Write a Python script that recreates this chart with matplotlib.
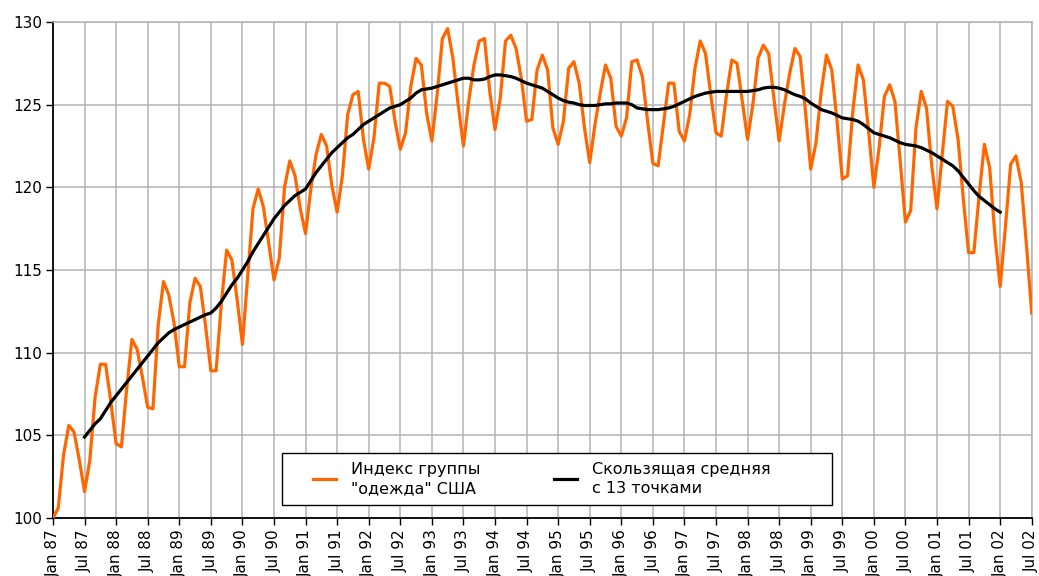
import matplotlib
matplotlib.use("Agg")
import matplotlib.pyplot as plt
from matplotlib.patches import Rectangle

# monthly index, Jan 1987 .. Jul 2002
apparel = [
    100.0, 100.6, 103.8, 105.6, 105.2, 103.5, 101.6, 103.5, 107.3, 109.3, 109.3, 107.0,   # 1987
    104.5, 104.3, 107.8, 110.8, 110.2, 108.5, 106.7, 106.6, 111.7, 114.3, 113.5, 111.8,   # 1988
    109.15, 109.15, 113.0, 114.5, 114.0, 111.6, 108.9, 108.9, 113.0, 116.2, 115.6, 113.2, # 1989
    110.5, 114.6, 118.7, 119.9, 118.8, 116.6, 114.4, 115.7, 120.0, 121.6, 120.7, 118.7,   # 1990
    117.2, 119.9, 122.0, 123.2, 122.5, 120.1, 118.5, 120.7, 124.4, 125.6, 125.8, 122.9,   # 1991
    121.1, 123.0, 126.3, 126.3, 126.1, 124.0, 122.3, 123.3, 126.1, 127.8, 127.4, 124.5,   # 1992
    122.8, 125.6, 129.0, 129.6, 127.8, 125.0, 122.5, 125.2, 127.4, 128.85, 129.0, 125.8,  # 1993
    123.5, 125.4, 128.85, 129.2, 128.4, 126.6, 124.0, 124.1, 127.1, 128.0, 127.1, 123.6,  # 1994
    122.6, 124.0, 127.2, 127.6, 126.3, 123.6, 121.5, 123.8, 125.7, 127.4, 126.6, 123.7,   # 1995
    123.1, 124.2, 127.6, 127.7, 126.7, 124.0, 121.45, 121.3, 123.8, 126.3, 126.3, 123.4,  # 1996
    122.8, 124.4, 127.2, 128.85, 128.1, 125.6, 123.3, 123.1, 125.6, 127.7, 127.5, 125.2,  # 1997
    122.9, 125.0, 127.8, 128.6, 128.1, 125.4, 122.8, 125.0, 126.9, 128.4, 127.9, 124.6,   # 1998
    121.1, 122.7, 125.8, 128.0, 127.1, 124.0, 120.5, 120.7, 124.6, 127.4, 126.5, 123.4,   # 1999
    120.0, 122.4, 125.5, 126.2, 125.2, 121.6, 117.9, 118.6, 123.6, 125.8, 124.8, 121.3,   # 2000
    118.7, 122.0, 125.2, 124.9, 122.9, 119.3, 116.05, 116.05, 119.5, 122.6, 121.2, 117.1, # 2001
    114.0, 117.6, 121.4, 121.9, 120.3, 116.5, 112.4,                                     # 2002
]

# 13-point moving average, Jul 1987 .. Jan 2002
moving_avg = [
    104.9, 105.3, 105.7, 106.0, 106.5, 107.0,                                             # 1987
    107.4, 107.8, 108.2, 108.6, 109.0, 109.4, 109.8, 110.2, 110.6, 110.9, 111.2, 111.4,   # 1988
    111.55, 111.7, 111.85, 112.0, 112.15, 112.3, 112.4, 112.7, 113.1, 113.6, 114.1, 114.5, # 1989
    115.0, 115.5, 116.1, 116.6, 117.1, 117.6, 118.1, 118.5, 118.9, 119.2, 119.5, 119.7,   # 1990
    119.9, 120.4, 120.9, 121.3, 121.7, 122.1, 122.4, 122.7, 123.0, 123.2, 123.5, 123.8,   # 1991
    124.0, 124.2, 124.4, 124.6, 124.8, 124.9, 125.0, 125.2, 125.4, 125.7, 125.9, 125.95,  # 1992
    126.0, 126.1, 126.2, 126.3, 126.4, 126.5, 126.6, 126.6, 126.5, 126.5, 126.55, 126.7,  # 1993
    126.8, 126.8, 126.75, 126.7, 126.6, 126.45, 126.3, 126.2, 126.1, 126.0, 125.8, 125.6, # 1994
    125.4, 125.25, 125.15, 125.1, 125.0, 124.95, 124.95, 124.95, 125.0, 125.05, 125.05, 125.1, # 1995
    125.1, 125.1, 125.0, 124.8, 124.75, 124.7, 124.7, 124.7, 124.75, 124.8, 124.9, 125.05, # 1996
    125.2, 125.35, 125.5, 125.6, 125.7, 125.75, 125.8, 125.8, 125.8, 125.8, 125.8, 125.8, # 1997
    125.8, 125.85, 125.9, 126.0, 126.05, 126.05, 126.0, 125.9, 125.75, 125.6, 125.5, 125.35, # 1998
    125.1, 124.9, 124.7, 124.6, 124.5, 124.35, 124.2, 124.15, 124.1, 124.0, 123.8, 123.55, # 1999
    123.3, 123.2, 123.1, 123.0, 122.85, 122.7, 122.6, 122.55, 122.5, 122.4, 122.25, 122.1, # 2000
    121.9, 121.7, 121.5, 121.3, 121.0, 120.6, 120.2, 119.8, 119.45, 119.2, 118.95, 118.7, # 2001
    118.5,                                                                                # 2002
]
ma_start = 6  # Jul 87

tick_labels = []
for yy in range(87, 103):
    for mon in ("Jan", "Jul"):
        tick_labels.append(f"{mon} {yy % 100:02d}")
tick_labels = tick_labels[:32]   # up to Jul 02

label_apparel = 'Индекс группы\n"одежда" США'
label_ma = 'Скользящая средняя\nс 13 точками'

plt.rcParams['font.family'] = ['DejaVu Sans']

fig = plt.figure(figsize=(10.39, 5.76), dpi=100)
ax = fig.add_axes([0.051, 0.1007, 0.942, 0.8611])

x_app = list(range(len(apparel)))
x_ma = list(range(ma_start, ma_start + len(moving_avg)))

ax.plot(x_app, apparel, color='#ff6600', lw=2.3, label=label_apparel, zorder=3)
ax.plot(x_ma, moving_avg, color='black', lw=2.3, label=label_ma, zorder=4)

ax.set_xlim(0, len(apparel) - 1)
ax.set_ylim(100, 130)
ax.set_xticks(range(0, len(apparel), 6))
ax.set_xticklabels(tick_labels, rotation=90, fontsize=11)
ax.set_yticks(range(100, 131, 5))
ax.tick_params(axis='y', labelsize=11, length=5, width=1, pad=3)
ax.tick_params(axis='x', length=5, width=1, pad=3)

ax.grid(True, color='#b4b4b4', lw=1.1, zorder=0)
ax.set_axisbelow(True)
for side in ('top', 'right'):
    ax.spines[side].set_color('#b4b4b4')
    ax.spines[side].set_linewidth(1.1)
for side in ('left', 'bottom'):
    ax.spines[side].set_color('black')
    ax.spines[side].set_linewidth(1.3)

# legend frame drawn separately so it can be wider than its content
ax.add_patch(Rectangle((0.2339, 0.0262), 0.5618, 0.1048, transform=ax.transAxes,
                       facecolor='white', edgecolor='black', lw=1.0, zorder=5))
leg = ax.legend(loc='center left', bbox_to_anchor=(0.2574, 0.0786), ncol=2,
                fontsize=11.5, frameon=False, handlelength=1.45, handletextpad=0.95,
                columnspacing=4.6, borderpad=0)
leg.set_zorder(6)
for t in leg.get_texts():
    t.set_linespacing(1.3)

fig.savefig('out.png', dpi=100)
